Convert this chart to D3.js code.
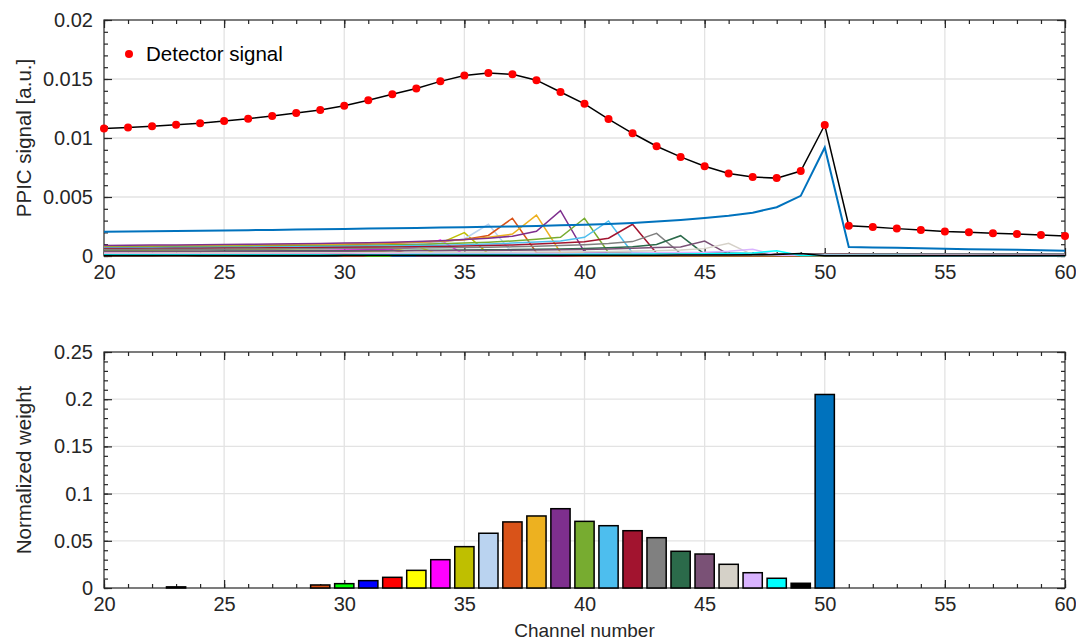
<!DOCTYPE html>
<html>
<head>
<meta charset="utf-8">
<script src="https://cdn.jsdelivr.net/npm/d3@7"></script>
<style>
  body { margin: 0; background: #fff; }
  svg { font-family: "Liberation Sans", Arial, Helvetica, sans-serif; }
</style>
</head>
<body>
<div id="chart"></div>
<script>
// Channel numbers (x values of the top panel)
const channels = [20, 21, 22, 23, 24, 25, 26, 27, 28, 29, 30, 31, 32, 33, 34, 35, 36, 37, 38, 39,
  40, 41, 42, 43, 44, 45, 46, 47, 48, 49, 50, 51, 52, 53, 54, 55, 56, 57, 58, 59, 60];

// Measured detector signal, one value per channel
const detectorSignal = [0.0108, 0.0109, 0.0110, 0.01113, 0.01124, 0.01144, 0.01164, 0.01186, 0.01212, 0.01237,
  0.01274, 0.0132, 0.0137, 0.0142, 0.0148, 0.0153, 0.0155, 0.0154, 0.0149, 0.0139,
  0.0129, 0.0116, 0.0104, 0.0093, 0.0084, 0.0076, 0.0070, 0.0067, 0.0066, 0.0072,
  0.0111, 0.00257, 0.00246, 0.00232, 0.0022, 0.00208, 0.00201, 0.00193, 0.00186, 0.00178, 0.0017];

// Channels that got a non zero weight, their weights and colours
const weightChannels = [23, 29, 30, 31, 32, 33, 34, 35, 36, 37, 38, 39, 40, 41, 42, 43, 44, 45, 46, 47, 48, 49, 50];
const weights = [0.0012, 0.0032, 0.0046, 0.0078, 0.0113, 0.0187, 0.030, 0.0438, 0.058, 0.070, 0.0763, 0.084,
  0.0706, 0.066, 0.0607, 0.0533, 0.0389, 0.036, 0.0251, 0.0162, 0.0103, 0.005, 0.205];
const weightColors = ['#262626', '#D95319', '#00FF00', '#0000FF', '#FF0000', '#FFFF00', '#FF00FF', '#BFBF00',
  '#BAD3F0', '#D95319', '#EDB120', '#7E2F8E', '#77AC30', '#4DBEEE', '#A2142F', '#808080',
  '#2B6A4A', '#7A5176', '#D5D1C8', '#D9B3FF', '#00FFFF', '#000000', '#0072BD'];

// Weighted response of each channel, in units of 1e-5 (same order as weightChannels)
const signalUnit = 1e-5;
const componentSignals = [
  /* 23 */ [2.2, 2.4, 3, 5.4, 0.4, 0.4, 0.4, 0.4, 0.4, 0.4, 0.4, 0.4, 0.4, 0.4, 0.25, 0.25, 0.25, 0.25, 0.25, 0.25,
    0.25, 0.25, 0.25, 0.25, 0.25, 0.25, 0.25, 0.25, 0.25, 0.25, 0.25, 0.25, 0.25, 0.25, 0.25, 0.25, 0.25, 0.25, 0.25, 0.25, 0.25],
  /* 29 */ [4.2, 4.3, 4.4, 4.7, 5, 5.3, 5.8, 6.4, 8, 14, 1.3, 1.2, 1.1, 1.1, 1, 0.9, 0.9, 0.8, 0.7, 0.7,
    0.7, 0.7, 0.7, 0.7, 0.7, 0.7, 0.7, 0.7, 0.7, 0.7, 0.5, 0.5, 0.5, 0.5, 0.5, 0.5, 0.5, 0.5, 0.5, 0.5, 0.5],
  /* 30 */ [5.8, 6, 6.2, 6.4, 6.7, 7.1, 7.6, 8.3, 9.2, 11.5, 21, 1.8, 1.7, 1.6, 1.5, 1.4, 1.3, 1.2, 1.2, 1.1,
    1, 1, 1, 1, 1, 1, 1, 1, 1, 1, 1, 0.8, 0.8, 0.8, 0.8, 0.8, 0.8, 0.8, 0.8, 0.8, 0.8],
  /* 31 */ [9.7, 9.9, 10.1, 10.5, 10.8, 11.4, 12.1, 12.9, 14, 15.6, 19.4, 35, 3.1, 2.9, 2.7, 2.6, 2.4, 2.3, 2.1, 2,
    1.8, 1.7, 1.6, 1.6, 1.6, 1.6, 1.6, 1.6, 1.6, 1.6, 1.6, 1.6, 1.3, 1.3, 1.3, 1.3, 1.3, 1.3, 1.3, 1.3, 1.3],
  /* 32 */ [13.7, 14, 14.4, 14.7, 15.1, 15.7, 16.5, 17.5, 18.8, 20.3, 22.6, 28.1, 51, 4.5, 4.2, 4, 3.7, 3.5, 3.3, 3.1,
    2.8, 2.6, 2.5, 2.4, 2.4, 2.4, 2.4, 2.4, 2.4, 2.4, 2.4, 2.4, 2.4, 1.9, 1.9, 1.9, 1.9, 1.9, 1.9, 1.9, 1.9],
  /* 33 */ [22.1, 22.6, 23.2, 23.7, 24.3, 25.1, 26, 27.3, 29, 31, 33.7, 37.4, 46.6, 84, 7.5, 6.9, 6.5, 6.2, 5.8, 5.4,
    5, 4.7, 4.3, 4.1, 3.9, 3.9, 3.9, 3.9, 3.9, 3.9, 3.9, 3.9, 3.9, 3.9, 3.2, 3.2, 3.2, 3.2, 3.2, 3.2, 3.2],
  /* 34 */ [34.8, 35.4, 36.3, 37.2, 38.1, 39, 40.2, 41.7, 43.8, 46.5, 49.8, 54, 60, 74.7, 135, 12, 11.1, 10.5, 9.9, 9.3,
    8.7, 8.1, 7.5, 6.9, 6.6, 6.3, 6.3, 6.3, 6.3, 6.3, 6.3, 6.3, 6.3, 6.3, 6.3, 5.1, 5.1, 5.1, 5.1, 5.1, 5.1],
  /* 35 */ [49.9, 50.8, 51.7, 53, 54.3, 55.6, 56.9, 58.7, 60.9, 63.9, 67.9, 72.7, 78.8, 87.6, 109, 198, 17.5, 16.2, 15.3, 14.5,
    13.6, 12.7, 11.8, 11, 10.1, 9.6, 9.2, 9.2, 9.2, 9.2, 9.2, 9.2, 9.2, 9.2, 9.2, 9.2, 7.4, 7.4, 7.4, 7.4, 7.4],
  /* 36 */ [65, 66.1, 67.3, 68.4, 70.2, 71.9, 73.7, 75.4, 77.7, 80.6, 84.7, 89.9, 96.3, 104.4, 116, 144.4, 269, 23.2, 21.5, 20.3,
    19.1, 18, 16.8, 15.7, 14.5, 13.3, 12.8, 12.2, 12.2, 12.2, 12.2, 12.2, 12.2, 12.2, 12.2, 12.2, 12.2, 9.9, 9.9, 9.9, 9.9],
  /* 37 */ [77, 78.4, 79.8, 81.2, 82.6, 84.7, 86.8, 88.9, 91, 93.8, 97.3, 102.2, 108.5, 116.2, 126, 140, 174, 320, 28, 25.9,
    24.5, 23.1, 21.7, 20.3, 18.9, 17.5, 16.1, 15.4, 14.7, 14.7, 14.7, 14.7, 14.7, 14.7, 14.7, 14.7, 14.7, 14.7, 11.9, 11.9, 11.9],
  /* 38 */ [82.4, 83.9, 85.5, 87, 88.5, 90, 92.3, 94.6, 96.9, 99.2, 102.2, 106.1, 111.4, 118.3, 126.7, 137.3, 158, 186, 347, 30.5,
    28.2, 26.7, 25.2, 23.7, 22.1, 20.6, 19.1, 17.5, 16.8, 16, 16, 16, 16, 16, 16, 16, 16, 16, 16, 13, 13],
  /* 39 */ [90, 90.7, 92.4, 94.1, 95.8, 97.4, 99.1, 101.6, 104.2, 106.7, 109.2, 112.6, 116.8, 122.6, 130.2, 139.4, 151.2, 168, 209, 385,
    33.6, 31.1, 29.4, 27.7, 26, 24.4, 22.7, 21, 19.3, 18.5, 17.6, 17.6, 17.6, 17.6, 17.6, 17.6, 17.6, 17.6, 17.6, 17.6, 14.3],
  /* 40 */ [74.8, 75.5, 76.2, 77.7, 79.1, 80.5, 81.9, 83.3, 85.4, 87.5, 89.7, 91.8, 94.6, 98.1, 103.1, 109.4, 117.2, 127.1, 141, 158,
    320, 28.2, 26.1, 24.7, 23.3, 21.9, 20.5, 19.1, 17.6, 16.2, 15.5, 14.8, 14.8, 14.8, 14.8, 14.8, 14.8, 14.8, 14.8, 14.8, 14.8],
  /* 41 */ [70, 70, 70.6, 71.3, 72.6, 73.9, 75.2, 76.6, 77.9, 79.9, 81.8, 83.8, 85.8, 88.4, 91.7, 96.4, 102.3, 109.6, 118.8, 128,
    158, 297, 26.4, 24.4, 23.1, 21.8, 20.5, 19.1, 17.8, 16.5, 15.2, 14.5, 13.9, 13.9, 13.9, 13.9, 13.9, 13.9, 13.9, 13.9, 13.9],
  /* 42 */ [63.7, 64.3, 64.3, 64.9, 65.6, 66.8, 68, 69.2, 70.4, 71.6, 73.4, 75.3, 77.1, 78.9, 81.3, 84.4, 88.6, 94.1, 100.8, 109.3,
    121.4, 151, 269, 24.3, 22.5, 21.2, 20, 18.8, 17.6, 16.4, 15.2, 14, 13.4, 12.7, 12.7, 12.7, 12.7, 12.7, 12.7, 12.7, 12.7],
  /* 43 */ [55.4, 56, 56.5, 56.5, 57, 57.6, 58.6, 59.7, 60.8, 61.8, 62.9, 64.5, 66.1, 67.7, 69.3, 71.4, 74.1, 77.8, 82.6, 88.5,
    95.9, 106.6, 122, 192, 21.3, 19.7, 18.7, 17.6, 16.5, 15.5, 14.4, 13.3, 12.3, 11.7, 11.2, 11.2, 11.2, 11.2, 11.2, 11.2, 11.2],
  /* 44 */ [40.5, 40.5, 40.8, 41.2, 41.2, 41.6, 42, 42.8, 43.6, 44.3, 45.1, 45.9, 47.1, 48.2, 49.4, 50.6, 52.1, 54.1, 56.8, 60.3,
    64.6, 70, 77.8, 96.9, 172, 15.6, 14.4, 13.6, 12.8, 12.1, 11.3, 10.5, 9.7, 8.9, 8.6, 8.2, 8.2, 8.2, 8.2, 8.2, 8.2],
  /* 45 */ [37.1, 37.4, 37.4, 37.8, 38.2, 38.2, 38.5, 38.9, 39.6, 40.3, 41, 41.8, 42.5, 43.6, 44.6, 45.7, 46.8, 48.2, 50, 52.6,
    55.8, 59.8, 64.8, 72, 76, 127, 14.4, 13.3, 12.6, 11.9, 11.2, 10.4, 9.7, 9, 8.3, 7.9, 7.6, 7.6, 7.6, 7.6, 7.6],
  /* 46 */ [25.6, 25.9, 26.1, 26.1, 26.4, 26.6, 26.6, 26.9, 27.1, 27.6, 28.1, 28.6, 29.1, 29.6, 30.4, 31.1, 31.9, 32.6, 33.6, 34.9,
    36.6, 38.9, 41.7, 45.2, 50.2, 62.5, 108, 10, 9.3, 8.8, 8.3, 7.8, 7.3, 6.8, 6.3, 5.8, 5.5, 5.3, 5.3, 5.3, 5.3],
  /* 47 */ [16.4, 16.5, 16.7, 16.8, 16.8, 17, 17.2, 17.2, 17.3, 17.5, 17.8, 18.1, 18.5, 18.8, 19.1, 19.6, 20.1, 20.6, 21.1, 21.7,
    22.5, 23.7, 25.1, 26.9, 29.2, 32.4, 40.3, 57, 6.5, 6, 5.7, 5.3, 5, 4.7, 4.4, 4, 3.7, 3.6, 3.4, 3.4, 3.4],
  /* 48 */ [10.3, 10.4, 10.5, 10.6, 10.7, 10.7, 10.8, 10.9, 10.9, 11, 11.1, 11.3, 11.5, 11.7, 11.9, 12.2, 12.5, 12.8, 13.1, 13.4,
    13.8, 14.3, 15, 16, 17.1, 18.5, 20.6, 25.6, 45, 4.1, 3.8, 3.6, 3.4, 3.2, 3, 2.8, 2.6, 2.4, 2.3, 2.2, 2.2],
  /* 49 */ [5, 5, 5, 5.1, 5.2, 5.2, 5.2, 5.3, 5.3, 5.3, 5.4, 5.4, 5.5, 5.6, 5.7, 5.8, 5.9, 6, 6.2, 6.4,
    6.5, 6.7, 7, 7.3, 7.8, 8.3, 9, 10, 12.5, 22, 2, 1.9, 1.8, 1.7, 1.6, 1.5, 1.4, 1.3, 1.2, 1.1, 1.1],
  /* 50 */ [206, 208, 210, 212, 214, 216, 219, 221, 224, 227, 229, 232, 235, 238, 241, 244, 248, 251, 255, 260,
    265, 271, 280, 292, 306, 322, 342, 367, 413, 510, 920, 76, 72, 69, 65, 62, 58, 55, 52, 48, 45]
];

// Axis ticks
const xTicks = [20, 25, 30, 35, 40, 45, 50, 55, 60];
const topYTicks = [0, 0.005, 0.01, 0.015, 0.02];
const topYLabels = ['0', '0.005', '0.01', '0.015', '0.02'];
const bottomYTicks = [0, 0.05, 0.1, 0.15, 0.2, 0.25];
const bottomYLabels = ['0', '0.05', '0.1', '0.15', '0.2', '0.25'];

const W = 1076, H = 641;
const axisColor = '#262626';
const tickFont = 20;
const titleFont = 20.5;

const svg = d3.select('#chart').append('svg')
  .attr('width', W)
  .attr('height', H);

const x = d3.scaleLinear().domain([20, 60]).range([104, 1065]);
const yTop = d3.scaleLinear().domain([0, 0.02]).range([256, 20]);
const yBot = d3.scaleLinear().domain([0, 0.25]).range([588, 352]);

// Grid, box and ticks of one panel
function drawFrame (y, yTicks, yLabels, yMinorStep) {
  const [yb, yt] = y.range();
  const [xl, xr] = x.range();
  const g = svg.append('g');
  const yMinor = d3.range(y.domain()[0], y.domain()[1] + yMinorStep / 2, yMinorStep);
  const xMinor = d3.range(20, 61, 1);

  // grid lines
  g.selectAll('.vgrid').data(xTicks.slice(1, -1)).join('line')
    .attr('x1', d => x(d)).attr('x2', d => x(d))
    .attr('y1', yt).attr('y2', yb)
    .attr('stroke', '#e3e3e3').attr('stroke-width', 1.3);
  g.selectAll('.hgrid').data(yTicks.slice(1, -1)).join('line')
    .attr('x1', xl).attr('x2', xr)
    .attr('y1', d => y(d)).attr('y2', d => y(d))
    .attr('stroke', '#e3e3e3').attr('stroke-width', 1.3);

  const styleAxis = (sel) => {
    sel.select('.domain').remove();
    sel.selectAll('line').attr('stroke', axisColor).attr('stroke-width', 1.2);
    sel.selectAll('text').attr('fill', axisColor).style('font-size', tickFont + 'px');
  };

  // minor ticks on all four sides
  g.append('g').attr('transform', `translate(0,${yb})`)
    .call(d3.axisBottom(x).tickValues(xMinor).tickSize(-4).tickFormat('')).call(styleAxis);
  g.append('g').attr('transform', `translate(0,${yt})`)
    .call(d3.axisTop(x).tickValues(xMinor).tickSize(-4).tickFormat('')).call(styleAxis);
  g.append('g').attr('transform', `translate(${xl},0)`)
    .call(d3.axisLeft(y).tickValues(yMinor).tickSize(-4).tickFormat('')).call(styleAxis);
  g.append('g').attr('transform', `translate(${xr},0)`)
    .call(d3.axisRight(y).tickValues(yMinor).tickSize(-4).tickFormat('')).call(styleAxis);

  // major ticks with labels
  g.append('g').attr('transform', `translate(0,${yb})`)
    .call(d3.axisBottom(x).tickValues(xTicks).tickSize(-8).tickPadding(9).tickFormat(d3.format('d')))
    .call(styleAxis);
  g.append('g').attr('transform', `translate(0,${yt})`)
    .call(d3.axisTop(x).tickValues(xTicks).tickSize(-8).tickFormat('')).call(styleAxis);
  g.append('g').attr('transform', `translate(${xl},0)`)
    .call(d3.axisLeft(y).tickValues(yTicks).tickSize(-8).tickPadding(11).tickFormat((d, i) => yLabels[i]))
    .call(styleAxis);
  g.append('g').attr('transform', `translate(${xr},0)`)
    .call(d3.axisRight(y).tickValues(yTicks).tickSize(-8).tickFormat('')).call(styleAxis);

  // box
  g.append('rect')
    .attr('x', xl).attr('y', yt)
    .attr('width', xr - xl).attr('height', yb - yt)
    .attr('fill', 'none')
    .attr('stroke', axisColor)
    .attr('stroke-width', 1.2);
}

function yTitle (text, cy) {
  svg.append('text')
    .attr('transform', `translate(31,${cy}) rotate(-90)`)
    .attr('text-anchor', 'middle')
    .attr('fill', axisColor)
    .style('font-size', titleFont + 'px')
    .text(text);
}

// ---- top panel ----
drawFrame(yTop, topYTicks, topYLabels, 0.001);

const compLine = d3.line()
  .x((d, i) => x(channels[i]))
  .y(d => yTop(d * signalUnit));

svg.append('g').selectAll('path')
  .data(componentSignals)
  .join('path')
  .attr('d', compLine)
  .attr('fill', 'none')
  .attr('stroke', (d, i) => weightColors[i])
  .attr('stroke-width', (d, i) => weightChannels[i] === 50 ? 2 : 1.5);

const sigLine = d3.line()
  .x((d, i) => x(channels[i]))
  .y(d => yTop(d));

svg.append('path')
  .attr('d', sigLine(detectorSignal))
  .attr('fill', 'none')
  .attr('stroke', '#000')
  .attr('stroke-width', 1.5);

svg.append('g').selectAll('circle')
  .data(detectorSignal)
  .join('circle')
  .attr('cx', (d, i) => x(channels[i]))
  .attr('cy', d => yTop(d))
  .attr('r', 4)
  .attr('fill', '#FF0000');

// legend
svg.append('circle').attr('cx', 129).attr('cy', 54).attr('r', 4).attr('fill', '#FF0000');
svg.append('text')
  .attr('x', 146).attr('y', 61)
  .attr('fill', '#000')
  .style('font-size', titleFont + 'px')
  .text('Detector signal');

yTitle('PPIC signal [a.u.]', 138);

// ---- bottom panel ----
drawFrame(yBot, bottomYTicks, bottomYLabels, 0.01);

const barW = (x(1) - x(0)) * 0.8;

svg.append('g').selectAll('rect')
  .data(weights)
  .join('rect')
  .attr('x', (d, i) => x(weightChannels[i]) - barW / 2)
  .attr('y', d => yBot(d))
  .attr('width', barW)
  .attr('height', d => yBot(0) - yBot(d))
  .attr('fill', (d, i) => weightColors[i])
  .attr('stroke', '#000')
  .attr('stroke-width', 1.5);

yTitle('Normalized weight', 470);

svg.append('text')
  .attr('x', (x.range()[0] + x.range()[1]) / 2)
  .attr('y', 637)
  .attr('text-anchor', 'middle')
  .attr('fill', axisColor)
  .style('font-size', '19px')
  .text('Channel number');
</script>
</body>
</html>
